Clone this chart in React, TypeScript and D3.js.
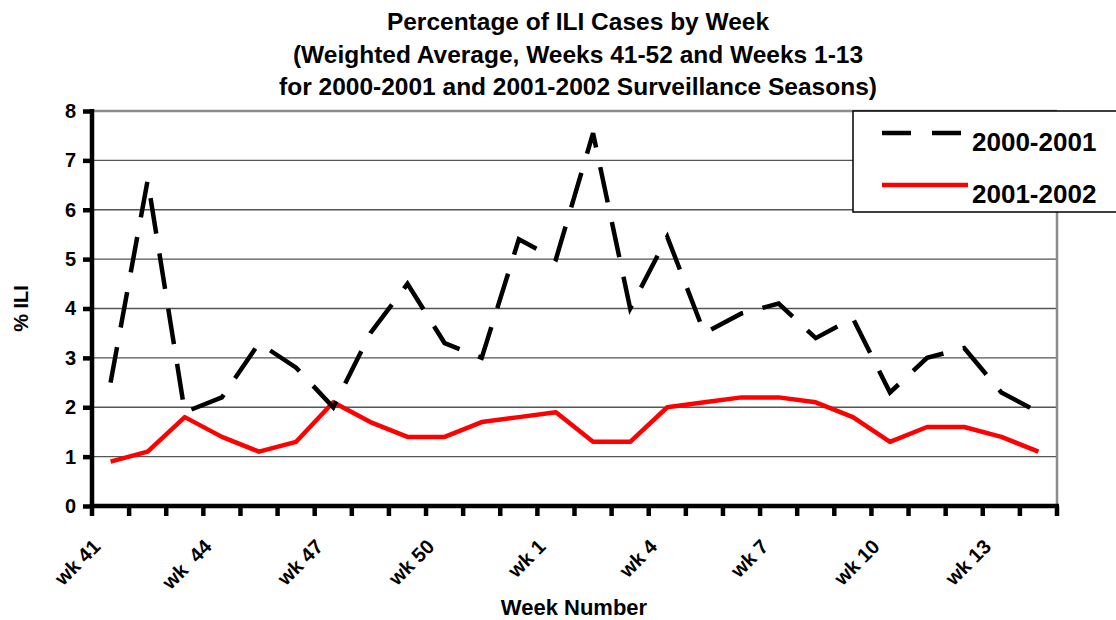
import React, { useEffect, useRef } from "react";
import * as d3 from "d3";

// week categories, 41..52 then 1..14
const weeks = ["41", "42", "43", "44", "45", "46", "47", "48", "49", "50", "51", "52",
  "1", "2", "3", "4", "5", "6", "7", "8", "9", "10", "11", "12", "13", "14"];

// labels shown under every third week
const weekLabels: Record<string, string> = {
  "41": "wk 41", "44": "wk  44", "47": "wk 47", "50": "wk 50", "1": "wk 1",
  "4": "wk 4", "7": "wk 7", "10": "wk 10", "13": "wk 13",
};

const season0001 = [2.5, 6.6, 1.9, 2.2, 3.3, 2.8, 2.0, 3.5, 4.5, 3.3, 3.0, 5.4, 5.0,
  7.55, 4.0, 5.45, 3.5, 3.9, 4.1, 3.4, 3.8, 2.3, 3.0, 3.2, 2.3, 1.9];
const season0102 = [0.9, 1.1, 1.8, 1.4, 1.1, 1.3, 2.1, 1.7, 1.4, 1.4, 1.7, 1.8, 1.9,
  1.3, 1.3, 2.0, 2.1, 2.2, 2.2, 2.1, 1.8, 1.3, 1.6, 1.6, 1.4, 1.1];

const yTicks = [0, 1, 2, 3, 4, 5, 6, 7, 8];

const titleLines = [
  "Percentage of ILI Cases by Week",
  "(Weighted Average, Weeks 41-52 and Weeks 1-13",
  "for 2000-2001 and 2001-2002 Surveillance Seasons)",
];

const FONT = "'Liberation Sans', Arial, sans-serif";

const App: React.FC = () => {
  const svgRef = useRef<SVGSVGElement | null>(null);

  useEffect(() => {
    document.body.style.margin = "0";
    if (!svgRef.current) return;
    const svg = d3.select(svgRef.current);
    svg.selectAll("*").remove();

    const width = 1116;
    const height = 620;
    const left = 92, right = 1057, top = 111, bottom = 506;

    const x = d3.scaleBand<string>().domain(weeks).range([left, right]);
    const y = d3.scaleLinear().domain([0, 8]).range([bottom, top]);
    const cx = (w: string) => x(w)! + x.bandwidth() / 2;

    svg.attr("width", width).attr("height", height).style("font-family", FONT);

    svg.append("rect").attr("width", width).attr("height", height).attr("fill", "#fff");

    // title
    svg.append("g")
      .selectAll("text")
      .data(titleLines)
      .enter()
      .append("text")
      .attr("x", 578)
      .attr("y", (_, i) => 30 + i * 32.5)
      .attr("text-anchor", "middle")
      .attr("font-size", 24.5)
      .attr("font-weight", "bold")
      .text((d) => d);

    // gridlines
    svg.append("g")
      .selectAll("line")
      .data(yTicks.slice(1))
      .enter()
      .append("line")
      .attr("x1", left)
      .attr("x2", right)
      .attr("y1", (d) => y(d))
      .attr("y2", (d) => y(d))
      .attr("stroke", (d) => (d === 8 ? "#8c8c8c" : "#555"))
      .attr("stroke-width", (d) => (d === 8 ? 2.5 : 1.3));

    // right border
    svg.append("line")
      .attr("x1", right).attr("x2", right)
      .attr("y1", top).attr("y2", bottom)
      .attr("stroke", "#8c8c8c").attr("stroke-width", 2.5);

    // y axis
    const yAxis = d3.axisLeft(y).tickValues(yTicks).tickSize(9).tickPadding(7).tickFormat(d3.format("d"));
    const yg = svg.append("g").attr("transform", `translate(${left},0)`).call(yAxis);
    yg.select(".domain").attr("stroke", "#000").attr("stroke-width", 4.5).attr("d", `M0,${top - 2}V${bottom + 2}`);
    yg.selectAll(".tick line").attr("stroke", "#000").attr("stroke-width", 4.5);
    yg.selectAll(".tick text")
      .attr("font-size", 20).attr("font-weight", "bold").attr("font-family", FONT).attr("fill", "#000");

    // x axis: ticks at category boundaries
    const xg = svg.append("g");
    xg.append("line")
      .attr("x1", left - 2).attr("x2", right + 2)
      .attr("y1", bottom).attr("y2", bottom)
      .attr("stroke", "#000").attr("stroke-width", 4.5);
    xg.selectAll("line.tk")
      .data(weeks.concat(["end"]))
      .enter()
      .append("line")
      .attr("class", "tk")
      .attr("x1", (_, i) => left + i * x.step())
      .attr("x2", (_, i) => left + i * x.step())
      .attr("y1", bottom)
      .attr("y2", bottom + 10)
      .attr("stroke", "#000")
      .attr("stroke-width", 4.5);

    xg.selectAll("text")
      .data(weeks.filter((w) => weekLabels[w]))
      .enter()
      .append("text")
      .attr("transform", (w) => `translate(${cx(w) - 9},${bottom + 42}) rotate(-45)`)
      .attr("text-anchor", "end")
      .attr("font-size", 20)
      .attr("font-weight", "bold")
      .style("white-space", "pre")
      .text((w) => weekLabels[w]);

    // axis titles
    svg.append("text")
      .attr("x", 574).attr("y", 615)
      .attr("text-anchor", "middle")
      .attr("font-size", 22).attr("font-weight", "bold")
      .text("Week Number");

    svg.append("text")
      .attr("transform", `translate(28,${(top + bottom) / 2}) rotate(-90)`)
      .attr("text-anchor", "middle")
      .attr("font-size", 20).attr("font-weight", "bold")
      .text("% ILI");

    // lines
    const line = d3.line<number>()
      .x((_, i) => cx(weeks[i]))
      .y((d) => y(d));

    svg.append("path")
      .datum(season0102)
      .attr("d", line)
      .attr("fill", "none")
      .attr("stroke", "#ff0000")
      .attr("stroke-width", 4.5)
      .attr("stroke-linejoin", "round");

    svg.append("path")
      .datum(season0001)
      .attr("d", line)
      .attr("fill", "none")
      .attr("stroke", "#000")
      .attr("stroke-width", 4.5)
      .attr("stroke-dasharray", "36,20");

    // legend
    const lg = svg.append("g");
    lg.append("rect")
      .attr("x", 853).attr("y", 111)
      .attr("width", 270).attr("height", 101)
      .attr("fill", "#fff").attr("stroke", "#000").attr("stroke-width", 1.5);
    const legendItems = [
      { label: "2000-2001", color: "#000", dash: "29,21" },
      { label: "2001-2002", color: "#ff0000", dash: null as string | null },
    ];
    legendItems.forEach((it, i) => {
      const ly = 133 + i * 52;
      lg.append("line")
        .attr("x1", 882).attr("x2", 968)
        .attr("y1", ly).attr("y2", ly)
        .attr("stroke", it.color).attr("stroke-width", 4.5)
        .attr("stroke-dasharray", it.dash);
      lg.append("text")
        .attr("x", 972).attr("y", ly + 18)
        .attr("font-size", 26).attr("font-weight", "bold")
        .text(it.label);
    });
  }, []);

  return <svg ref={svgRef} style={{ display: "block" }}></svg>;
};

export default App;
